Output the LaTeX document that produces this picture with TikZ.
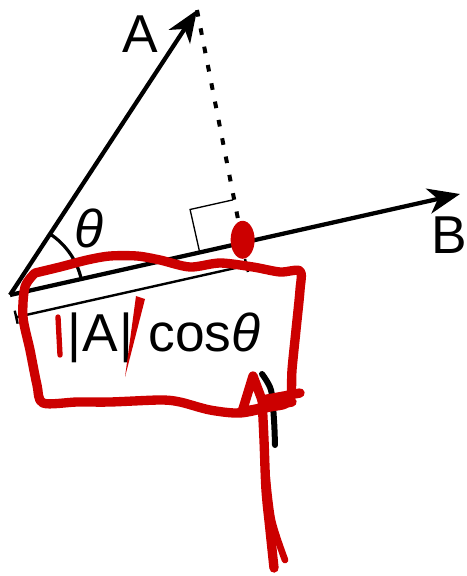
\documentclass[tikz,border=0pt]{standalone}
\usepackage{fontspec}
\setmainfont{Liberation Sans}
\usetikzlibrary{arrows.meta,calc}

\begin{document}
\begin{tikzpicture}[
  x=0.75pt, y=-0.75pt,
  vec/.style={-{Stealth[length=24pt, width=19pt, inset=7pt]}, line width=3.2pt},
  proj/.style={{Bar[width=10pt]}-{Bar[width=10pt]}, line width=1.8pt},
  perp/.style={dash pattern=on 5pt off 9pt, line width=3pt},
  lbl/.style={font=\fontsize{40}{42}\selectfont, inner sep=0pt, anchor=base},
  redpen/.style={draw=red!80!black, line width=7pt, line cap=round, line join=round}
]
\useasboundingbox (0,0) rectangle (467,576);
\coordinate (O) at (10,295);
\coordinate (At) at (197,10);
\coordinate (Bt) at (460,194);
\coordinate (F) at ($(O)!0.517!(Bt)$);
\coordinate (M1) at ($(F)!33pt!(O)$);
\coordinate (M3) at ($(F)!33pt!-90:(O)$);
\coordinate (P0) at ($(O)!17.25pt!-90:(Bt)$);
\coordinate (P1) at ($(F)+(P0)-(O)$);

\draw[perp] (At) -- (F);
\draw[line width=1pt] (M1) -- ($(M1)+(M3)-(F)$) -- (M3);
\draw[vec] (O) -- (At);
\draw[vec] (O) -- (Bt);
\draw[proj] (P0) -- (P1);
\draw[line width=2.4pt] ([shift={(-12.65:73)}]O) arc[start angle=-12.65, end angle=-56.7, radius=73];

\node[lbl] (lA) at (140,52) {A};
\node[lbl] (lB) at (449,253) {B};
\node[lbl] (lth) at (89,247) {\textit{θ}};
\node[lbl] (len) at (164,351) {|\kern1pt A\kern1pt| cos\textit{θ}};

\draw[line width=4.5pt, line cap=round] plot[smooth] coordinates {(262,374) (271,390) (274,420) (275,445)};

\fill[red!80!black] ($(F)+(0,-3)$) ellipse [x radius=12, y radius=19];
\draw[redpen] plot[smooth] coordinates {(35,273) (60,267) (87,260) (110,256) (137,256) (160,260) (190,267) (220,263) (253,267) (280,272) (300,271) (300,290) (296,330) (292,370) (291,395) (285,404) (270,407) (240,413) (210,410) (180,402) (160,400) (110,402) (77,402) (43,403) (37,385) (30,350) (23,317) (25,287) (35,273)};
\draw[redpen, line width=4pt] (58,317) -- (60,355);
\fill[red!80!black] (136,296) -- (145,299) -- (125,377) -- cycle;
\draw[redpen] (242,412) -- (253,376) -- (262,400) -- (300,393);
\draw[redpen] (240,412) -- (292,402);
\draw[redpen] plot[smooth] coordinates {(262,398) (264,440) (266,490) (270,530) (274,568)};
\draw[redpen, line width=5pt] plot[smooth] coordinates {(266,470) (272,520) (285,560)};
\end{tikzpicture}
\end{document}
